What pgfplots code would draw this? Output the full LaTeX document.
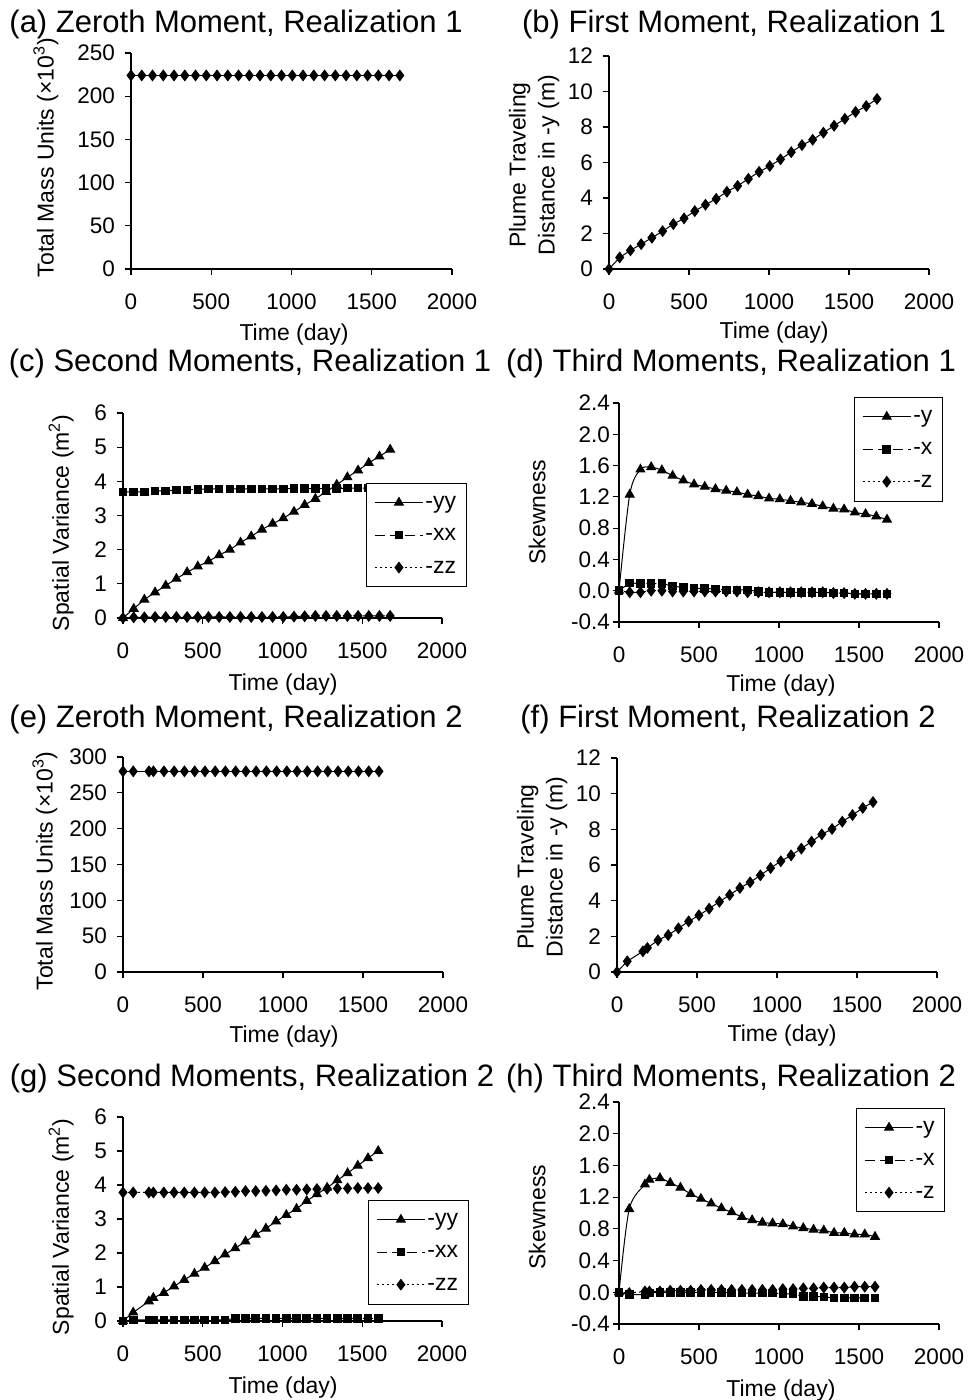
\documentclass[border=0pt]{standalone}
\usepackage{fontspec}
\setmainfont{Liberation Sans}
\usepackage{pgfplots}
\usepackage{pgfplotstable}
\pgfplotsset{compat=1.18}

\newcommand\titlefont{\fontsize{31}{36}\selectfont}
\newcommand\labfont{\fontsize{23}{29}\selectfont}
\newcommand\tickfont{\fontsize{22.5}{26}\selectfont}

% realization 1: t, zeroth, first, second (yy xx zz), third (y x z)
\pgfplotstableread{
t mass dist yy xx zz sy sx sz
0 224 0.00 0.00 3.69 0.00 0.00 0.00 0.00
67 224 0.65 0.27 3.69 0.02 1.23 0.10 -0.02
134 224 1.05 0.54 3.69 0.02 1.55 0.09 -0.02
201 224 1.40 0.75 3.72 0.03 1.58 0.09 0.00
268 224 1.76 0.95 3.72 0.03 1.54 0.09 0.00
335 224 2.13 1.15 3.75 0.03 1.47 0.06 -0.01
402 224 2.53 1.34 3.75 0.03 1.41 0.04 -0.01
469 224 2.85 1.51 3.76 0.03 1.36 0.03 -0.01
536 224 3.26 1.66 3.78 0.03 1.33 0.03 -0.01
603 224 3.62 1.84 3.78 0.03 1.30 0.02 -0.01
670 224 3.95 2.00 3.78 0.03 1.28 0.01 -0.01
737 224 4.35 2.21 3.78 0.03 1.26 0.01 -0.01
804 224 4.68 2.39 3.78 0.03 1.23 0.01 -0.02
871 224 5.08 2.59 3.78 0.03 1.21 -0.01 -0.02
938 224 5.47 2.76 3.78 0.03 1.18 -0.02 -0.02
1005 224 5.80 2.92 3.78 0.03 1.17 -0.02 -0.02
1072 224 6.18 3.11 3.79 0.04 1.15 -0.02 -0.02
1139 224 6.58 3.31 3.79 0.05 1.13 -0.02 -0.02
1206 224 6.98 3.49 3.79 0.06 1.11 -0.02 -0.02
1273 224 7.28 3.69 3.79 0.06 1.08 -0.02 -0.02
1340 224 7.68 3.90 3.79 0.06 1.05 -0.03 -0.03
1407 224 8.07 4.12 3.80 0.06 1.04 -0.03 -0.03
1474 224 8.46 4.32 3.80 0.06 1.00 -0.04 -0.04
1541 224 8.85 4.54 3.80 0.06 0.98 -0.04 -0.04
1608 224 9.18 4.73 3.80 0.06 0.95 -0.04 -0.04
1675 224 9.58 4.93 3.80 0.06 0.91 -0.04 -0.04
}\realone

% realization 2
\pgfplotstableread{
t mass dist yy xx zz sy sx sz
0 280 0.00 0.00 0.00 3.78 0.00 0.00 0.00
64 280 0.60 0.25 0.03 3.78 1.05 -0.03 -0.01
162 280 1.16 0.58 0.03 3.78 1.36 -0.03 0.01
190 280 1.35 0.68 0.03 3.78 1.42 -0.01 0.01
256 280 1.78 0.83 0.03 3.78 1.44 0.00 0.01
320 280 2.07 1.02 0.03 3.78 1.38 0.00 0.02
384 280 2.45 1.21 0.03 3.78 1.32 0.00 0.02
448 280 2.84 1.39 0.03 3.78 1.24 0.00 0.02
512 280 3.18 1.57 0.03 3.78 1.18 0.00 0.03
576 280 3.55 1.76 0.03 3.78 1.12 0.00 0.03
640 280 3.94 1.96 0.03 3.79 1.06 0.00 0.03
704 280 4.32 2.14 0.08 3.80 1.01 -0.01 0.03
768 280 4.71 2.34 0.08 3.82 0.95 -0.01 0.03
832 280 5.03 2.54 0.08 3.82 0.91 -0.01 0.03
896 280 5.42 2.72 0.08 3.83 0.88 -0.01 0.03
960 280 5.83 2.93 0.08 3.84 0.87 -0.01 0.03
1024 280 6.21 3.12 0.08 3.86 0.86 -0.02 0.04
1088 280 6.54 3.30 0.08 3.86 0.83 -0.02 0.04
1152 280 6.92 3.53 0.08 3.87 0.81 -0.05 0.05
1216 280 7.31 3.73 0.08 3.88 0.79 -0.05 0.05
1280 280 7.72 3.92 0.08 3.89 0.78 -0.06 0.06
1344 280 8.02 4.14 0.08 3.90 0.75 -0.07 0.06
1408 280 8.43 4.35 0.08 3.90 0.75 -0.07 0.06
1472 280 8.80 4.57 0.08 3.91 0.73 -0.07 0.07
1536 280 9.20 4.79 0.08 3.91 0.73 -0.07 0.07
1600 280 9.53 5.00 0.08 3.91 0.70 -0.07 0.07
}\realtwo

\pgfplotsset{
  panel/.style={
    scale only axis, anchor=south west, clip=false,
    axis lines=left, axis line style={-, line width=1.2pt},
    tick align=outside, major tick length=6pt,
    tick style={black, line width=1.2pt},
    xmin=0, xmax=2000, xtick={0,500,1000,1500,2000},
    tick label style={font=\tickfont},
    xticklabel style={anchor=center, yshift=-27pt},
    yticklabel style={anchor=east, inner sep=0pt, xshift=-10pt},
    label style={font=\labfont},
    xlabel={Time (day)},
    /pgf/number format/assume math mode=true,
    /pgf/number format/1000 sep={},
    legend cell align=left,
    legend image code/.code={\draw[mark repeat=2, mark phase=2, ##1] plot coordinates {(0pt,0pt) (24pt,0pt) (48pt,0pt)};},
    legend style={draw=black, line width=0.8pt, fill=white, font=\labfont, anchor=north west,
      inner xsep=8pt, inner ysep=3pt, row sep=0pt,
      nodes={inner xsep=2pt, inner ysep=5.5pt, text height=16.5pt, text depth=5pt}},
  },
  skew/.style={ymin=-0.4, ymax=2.4, ytick={-0.4,0,0.4,0.8,1.2,1.6,2.0,2.4}, ylabel={Skewness},
    yticklabel style={xshift=7pt, /pgf/number format/.cd, fixed, fixed zerofill, precision=1}},
  s1/.style={black, line width=1pt, mark=triangle*, mark size=5pt, mark options={solid}},
  s2/.style={black, line width=1pt, dash pattern=on 10pt off 5pt, mark=square*, mark size=3.8pt, mark options={solid}},
  s3/.style={black, line width=1pt, dash pattern=on 2pt off 3pt, mark=diamond*, mark size=5.2pt, mark options={solid}},
  s0/.style={black, line width=1pt, mark=diamond*, mark size=5.2pt},
}

\begin{document}
\begin{tikzpicture}
\useasboundingbox (0,0) rectangle (968pt,1400pt);

% (a)
\begin{axis}[panel, at={(131pt,1131pt)}, width=321pt, height=216pt,
  ymin=0, ymax=250, ytick={0,50,...,250},
  ylabel={Total Mass Units (×10\textsuperscript{3})},
  xlabel style={at={(axis description cs:0.508,-0.305)}, anchor=center},
  ylabel style={at={(axis description cs:-0.265,0.515)}, anchor=center}]
\addplot[s0] table[x=t, y=mass] {\realone};
\end{axis}

% (b)
\begin{axis}[panel, at={(609pt,1131pt)}, width=320pt, height=213pt,
  ymin=0, ymax=12, ytick={0,2,...,12},
  ylabel={Plume Traveling\\Distance in -y (m)},
  xlabel style={at={(axis description cs:0.516,-0.300)}, anchor=center},
  ylabel style={at={(axis description cs:-0.234,0.488)}, anchor=center, align=center}]
\addplot[s0] table[x=t, y=dist] {\realone};
\end{axis}

% (c)
\begin{axis}[panel, at={(123pt,782pt)}, width=319pt, height=205pt,
  ymin=0, ymax=6, ytick={0,1,...,6},
  ylabel={Spatial Variance (m\textsuperscript{2})},
  xlabel style={at={(axis description cs:0.502,-0.325)}, anchor=center},
  ylabel style={at={(axis description cs:-0.194,0.463)}, anchor=center},
  legend style={at={(axis description cs:0.762,0.659)}}]
\addplot[s1] table[x=t, y=yy] {\realone};
\addlegendentry{-yy}
\addplot[s2] table[x=t, y=xx] {\realone};
\addlegendentry{-xx}
\addplot[s3] table[x=t, y=zz] {\realone};
\addlegendentry{-zz}
\end{axis}

% (d)
\begin{axis}[panel, skew, at={(619pt,778pt)}, width=320pt, height=219pt,
  xlabel style={at={(axis description cs:0.506,-0.290)}, anchor=center},
  ylabel style={at={(axis description cs:-0.256,0.502)}, anchor=center},
  legend style={at={(axis description cs:0.734,1.027)}}]
\addplot[s1, smooth] table[x=t, y=sy] {\realone};
\addlegendentry{-y}
\addplot[s2] table[x=t, y=sx] {\realone};
\addlegendentry{-x}
\addplot[s3] table[x=t, y=sz] {\realone};
\addlegendentry{-z}
\end{axis}

% (e)
\begin{axis}[panel, at={(123pt,428pt)}, width=320pt, height=215pt,
  ymin=0, ymax=300, ytick={0,50,...,300},
  ylabel={Total Mass Units (×10\textsuperscript{3})},
  xlabel style={at={(axis description cs:0.503,-0.298)}, anchor=center},
  ylabel style={at={(axis description cs:-0.244,0.470)}, anchor=center}]
\addplot[s0] table[x=t, y=mass] {\realtwo};
\end{axis}

% (f)
\begin{axis}[panel, at={(617pt,428pt)}, width=320pt, height=214pt,
  ymin=0, ymax=12, ytick={0,2,...,12},
  ylabel={Plume Traveling\\Distance in -y (m)},
  xlabel style={at={(axis description cs:0.516,-0.299)}, anchor=center},
  ylabel style={at={(axis description cs:-0.234,0.491)}, anchor=center, align=center}]
\addplot[s0] table[x=t, y=dist] {\realtwo};
\end{axis}

% (g)
\begin{axis}[panel, at={(123pt,79pt)}, width=319pt, height=204pt,
  ymin=0, ymax=6, ytick={0,1,...,6},
  ylabel={Spatial Variance (m\textsuperscript{2})},
  xlabel style={at={(axis description cs:0.502,-0.324)}, anchor=center},
  ylabel style={at={(axis description cs:-0.194,0.461)}, anchor=center},
  legend style={at={(axis description cs:0.768,0.593)}}]
\addplot[s1] table[x=t, y=yy] {\realtwo};
\addlegendentry{-yy}
\addplot[s2] table[x=t, y=xx] {\realtwo};
\addlegendentry{-xx}
\addplot[s3] table[x=t, y=zz] {\realtwo};
\addlegendentry{-zz}
\end{axis}

% (h)
\begin{axis}[panel, skew, at={(619pt,76pt)}, width=320pt, height=222pt,
  xlabel style={at={(axis description cs:0.506,-0.300)}, anchor=center},
  ylabel style={at={(axis description cs:-0.256,0.482)}, anchor=center},
  legend style={at={(axis description cs:0.741,0.973)}}]
\addplot[s1, smooth] table[x=t, y=sy] {\realtwo};
\addlegendentry{-y}
\addplot[s2] table[x=t, y=sx] {\realtwo};
\addlegendentry{-x}
\addplot[s3] table[x=t, y=sz] {\realtwo};
\addlegendentry{-z}
\end{axis}

% panel titles
\begin{scope}[every node/.style={font=\titlefont, anchor=base, inner sep=0pt}]
\node at (236pt,1367pt) {(a) Zeroth Moment, Realization 1};
\node at (734pt,1367pt) {(b) First Moment, Realization 1};
\node at (250pt,1028pt) {(c) Second Moments, Realization 1};
\node at (731pt,1028pt) {(d) Third Moments, Realization 1};
\node at (236pt,672pt) {(e) Zeroth Moment, Realization 2};
\node at (728pt,672pt) {(f) First Moment, Realization 2};
\node at (252pt,313pt) {(g) Second Moments, Realization 2};
\node at (731pt,313pt) {(h) Third Moments, Realization 2};
\end{scope}
\end{tikzpicture}
\end{document}
